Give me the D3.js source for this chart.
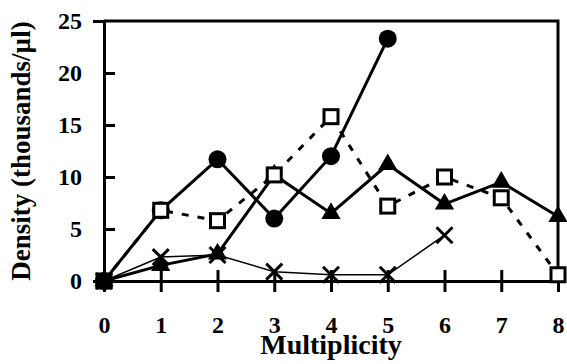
<!DOCTYPE html>
<html>
<head>
<meta charset="utf-8">
<script src="https://cdn.jsdelivr.net/npm/d3@7"></script>
<style>
  body { margin: 0; background: #fff; }
  text { font-family: "Liberation Serif", "Times New Roman", serif; font-weight: bold; }
</style>
</head>
<body>
<div id="chart"></div>
<script>
// Data
const multiplicity = [0, 1, 2, 3, 4, 5, 6, 7, 8];
const circleVals   = [0, 6.8, 11.7, 6.0, 12.0, 23.3];
const squareVals   = [0, 6.8, 5.8, 10.2, 15.8, 7.2, 10.0, 8.0, 0.6];
const triangleVals = [0, 1.5, 2.6, 10.2, 6.5, 11.2, 7.4, 9.5, 6.2];
const crossVals    = [0, 2.3, 2.5, 0.9, 0.6, 0.6, 4.4];
const yTicks = [0, 5, 10, 15, 20, 25];

const W = 567, H = 364;
const margin = { top: 21, right: 9, bottom: 83, left: 104 };

const svg = d3.select("#chart").append("svg")
  .attr("width", W)
  .attr("height", H);

const x = d3.scaleLinear().domain([0, 8]).range([margin.left, W - margin.right]);
const y = d3.scaleLinear().domain([0, 25]).range([H - margin.bottom, margin.top]);

// frame (top and right)
svg.append("path")
  .attr("d", `M${x(0)},${y(25)}H${x(8)}V${y(0)}`)
  .attr("fill", "none")
  .attr("stroke", "#000")
  .attr("stroke-width", 3);

// axes with ticks crossing the axis line
const yAxis = svg.append("g")
  .attr("transform", `translate(${x(0)},0)`)
  .call(d3.axisLeft(y).tickValues(yTicks).tickSize(11).tickPadding(11));
yAxis.selectAll(".tick line").attr("x2", 11);

const xAxis = svg.append("g")
  .attr("transform", `translate(0,${y(0)})`)
  .call(d3.axisBottom(x).tickValues(multiplicity).tickSize(11));
xAxis.selectAll(".tick line").attr("y1", -11);
xAxis.selectAll(".tick text").attr("y", 52).attr("dy", null);

[yAxis, xAxis].forEach(a => {
  a.select(".domain").attr("stroke-width", 3).attr("stroke", "#000");
  a.selectAll(".tick line").attr("stroke-width", 3).attr("stroke", "#000");
  a.selectAll(".tick text")
    .attr("fill", "#000")
    .style("font-family", '"Liberation Serif", serif')
    .style("font-weight", "bold")
    .style("font-size", "24px");
});
yAxis.select(".tick:last-of-type line").remove();

// axis titles
svg.append("text")
  .attr("x", x(4))
  .attr("y", 354)
  .attr("text-anchor", "middle")
  .attr("font-size", "28px")
  .text("Multiplicity");

svg.append("text")
  .attr("transform", "translate(30,151) rotate(-90)")
  .attr("text-anchor", "middle")
  .attr("font-size", "27px")
  .text("Density (thousands/\u00b5l)");

const line = d3.line()
  .x((d, i) => x(i))
  .y(d => y(d));

// lines
svg.append("path").datum(crossVals)
  .attr("d", line).attr("fill", "none").attr("stroke", "#000").attr("stroke-width", 1.5);
svg.append("path").datum(squareVals)
  .attr("d", line).attr("fill", "none").attr("stroke", "#000").attr("stroke-width", 3)
  .attr("stroke-dasharray", "7,9");
svg.append("path").datum(triangleVals)
  .attr("d", line).attr("fill", "none").attr("stroke", "#000").attr("stroke-width", 3);
svg.append("path").datum(circleVals)
  .attr("d", line).attr("fill", "none").attr("stroke", "#000").attr("stroke-width", 3);

// markers
svg.append("g").selectAll("path")
  .data(crossVals)
  .join("path")
  .attr("d", "M-8,-8L8,8M-8,8L8,-8")
  .attr("transform", (d, i) => `translate(${x(i)},${y(d)})`)
  .attr("stroke", "#000").attr("stroke-width", 3).attr("fill", "none");

svg.append("g").selectAll("path")
  .data(triangleVals)
  .join("path")
  .attr("d", d3.symbol(d3.symbolTriangle, 160))
  .attr("transform", (d, i) => `translate(${x(i)},${y(d)})`)
  .attr("fill", "#000");

svg.append("g").selectAll("circle")
  .data(circleVals)
  .join("circle")
  .attr("cx", (d, i) => x(i))
  .attr("cy", d => y(d))
  .attr("r", 9)
  .attr("fill", "#000");

svg.append("g").selectAll("rect")
  .data(squareVals)
  .join("rect")
  .attr("x", (d, i) => x(i) - 7)
  .attr("y", d => y(d) - 7)
  .attr("width", 14)
  .attr("height", 14)
  .attr("fill", (d, i) => i === 0 ? "#000" : "#fff")
  .attr("stroke", "#000")
  .attr("stroke-width", 3);
</script>
</body>
</html>
